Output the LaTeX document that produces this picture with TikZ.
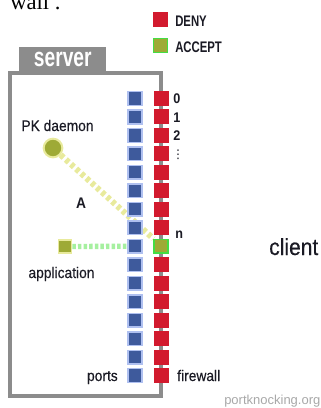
\documentclass[tikz,border=0pt]{standalone}
\usepackage{fontspec}
\setmainfont{Liberation Sans}
\newfontfamily\labf[FakeStretch=0.9,FakeBold=0.35]{Liberation Sans}
\newfontfamily\labbf[FakeStretch=0.9]{Liberation Sans}
\newfontfamily\legf[FakeStretch=0.74]{Liberation Sans}
\newfontfamily\srvf[FakeStretch=0.72]{Liberation Sans}
\newfontfamily\serf{Liberation Serif}
\newfontfamily\dvs{DejaVu Sans}
\usetikzlibrary{backgrounds}
\definecolor{denyred}{HTML}{D21A2E}
\definecolor{portblue}{HTML}{3E5A9C}
\definecolor{portedge}{HTML}{AFC0F0}
\definecolor{olivef}{HTML}{9EAA36}
\definecolor{accgreen}{HTML}{44DD44}
\definecolor{paleyel}{HTML}{E8EA9C}
\definecolor{palegreen}{HTML}{A6F0A0}
\definecolor{framegray}{HTML}{8C8C8C}
\definecolor{credit}{HTML}{A8A8A8}
\definecolor{ink}{HTML}{1A1A24}
\begin{document}
\begin{tikzpicture}[x=0.75pt,y=-0.75pt,
  redsq/.style={fill=denyred, draw=none, minimum size=11.25pt, inner sep=0pt},
  bluesq/.style={fill=portblue, draw=portedge, line width=1.1pt, minimum size=10.2pt, inner sep=0pt},
  accsq/.style={fill=olivef, draw=accgreen, line width=1.1pt, minimum size=10.2pt, inner sep=0pt},
  lbl/.style={inner sep=0pt, anchor=base, text=ink, font=\labf\fontsize{11.5pt}{12pt}\selectfont},
  lblw/.style={lbl, anchor=base west},
  lble/.style={lbl, anchor=base east},
  num/.style={inner sep=0pt, anchor=base west, text=ink, font=\labbf\bfseries\fontsize{10.5pt}{11pt}\selectfont},
  legtext/.style={inner sep=0pt, anchor=base west, text=ink, font=\legf\bfseries\fontsize{11.5pt}{12pt}\selectfont},
  knockline/.style={paleyel, line width=4.5pt, dash pattern=on 3pt off 2.2pt},
  appline/.style={palegreen, line width=4pt, dash pattern=on 2.6pt off 1.6pt}
]
\useasboundingbox (0,0) rectangle (321,408);
\clip (0,0) rectangle (321,408);

% cropped text above the figure
\node[inner sep=0pt, anchor=base west, font=\serf\fontsize{17pt}{18pt}\selectfont] (wall) at (10,9) {wall .};

% legend
\node[redsq] (denykey) at (160.5,19.5) {};
\node[legtext] (denytxt) at (175,26) {DENY};
\node[accsq] (acckey) at (160.5,45.5) {};
\node[legtext] (acctxt) at (175,52) {ACCEPT};

% server tab
\node[fill=framegray, inner sep=0pt, minimum width=65.25pt, minimum height=19pt, anchor=north west,
      text=white, font=\srvf\bfseries\fontsize{20pt}{21pt}\selectfont] (tab) at (19,47) {server};

% ports and firewall columns
\foreach \k in {0,...,15} {
  \pgfmathsetmacro\yy{98.5+18.47*\k}
  \node[bluesq] (b\k) at (135,\yy) {};
  \ifnum\k=8
    \node[accsq] (r\k) at (161,\yy) {};
  \else
    \node[redsq] (r\k) at (161,\yy) {};
  \fi
}

% PK daemon and application
\node[circle, fill=olivef, draw=paleyel, line width=1.5pt, minimum size=14pt, inner sep=0pt] (pk) at (53,148) {};
\node[fill=olivef, draw=paleyel, line width=1.1pt, minimum size=10pt, inner sep=0pt] (app) at (65,246.5) {};

\begin{pgfonlayer}{background}
  \draw[framegray, line width=2.3pt] (10,73) rectangle (161,396);
  \draw[knockline] (pk) -- (r8.north west);
  \draw[appline] (app) -- (b8);
\end{pgfonlayer}

% labels
\node[lbl] (pklbl) at (57.5,131) {PK daemon};
\node[lbl] (applbl) at (61.5,278) {application};
\node[inner sep=0pt, anchor=base, text=ink, font=\labbf\bfseries\fontsize{11.5pt}{12pt}\selectfont] (alabel) at (81,208) {A};
\node[num] (n0) at (173,103.5) {0};
\node[num] (n1) at (173,122) {1};
\node[num] (n2) at (173,140.5) {2};
\node[inner sep=0pt, text=ink, font=\dvs\fontsize{9pt}{10pt}\selectfont] (ndots) at (178,155) {⋮};
\node[num] (nn) at (175,238) {n};
\node[lble] (ports) at (118,381) {ports};
\node[lblw] (firewall) at (177,381) {firewall};
\node[inner sep=0pt, anchor=base west, text=ink, font=\labf\fontsize{17.5pt}{18pt}\selectfont] (client) at (269,255) {client};
\node[inner sep=0pt, anchor=base west, text=credit, font=\fontsize{9.75pt}{10pt}\selectfont] (credit) at (224,404.5) {portknocking.org};
\end{tikzpicture}
\end{document}
